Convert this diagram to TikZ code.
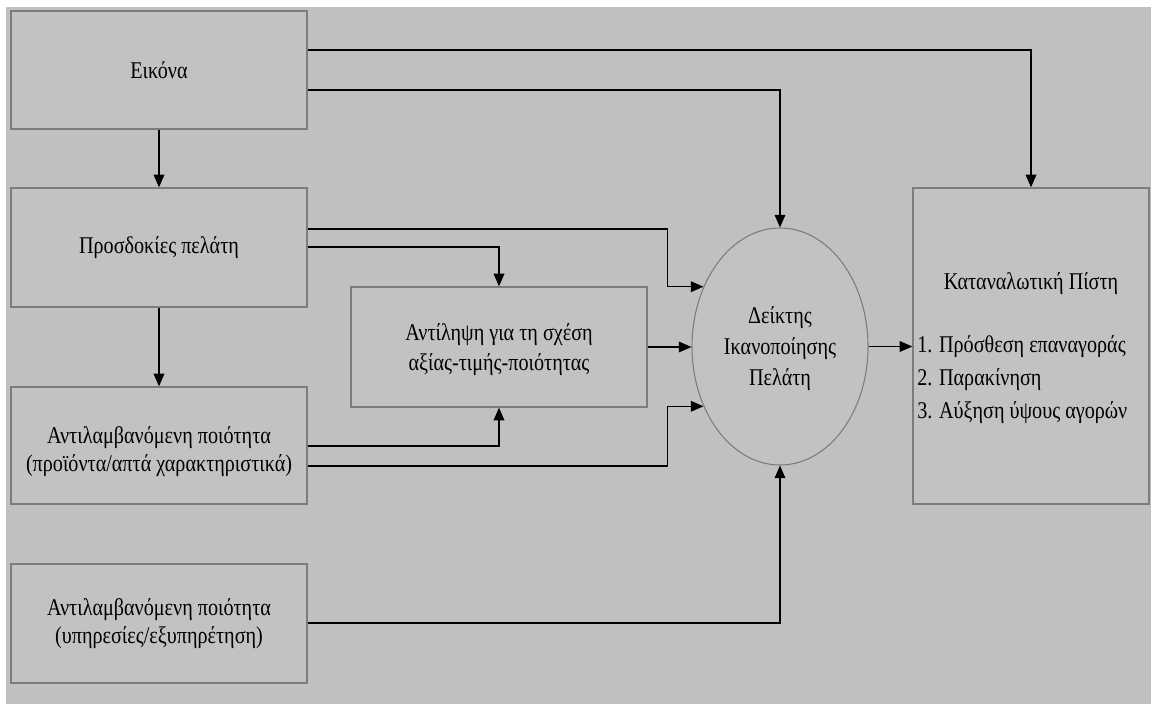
\documentclass[tikz,border=0pt]{standalone}
\usepackage{fontspec}
\setmainfont[FakeStretch=0.84]{Liberation Serif}
\usetikzlibrary{arrows.meta,calc,shapes.geometric}
\definecolor{bg}{HTML}{C0C0C0}
\definecolor{boxfill}{HTML}{C2C2C2}
\definecolor{boxline}{HTML}{7C7C7C}
\newcommand{\shiftedtext}[2]{\raisebox{#1}[0pt][0pt]{\begin{tabular}{@{}c@{}}#2\end{tabular}}}
\tikzset{
  box/.style={draw=boxline,fill=boxfill,line width=1pt,rectangle,inner sep=0pt,align=center,font=\fontsize{18}{22.5}\selectfont},
  oval/.style={draw=boxline,fill=boxfill,line width=0.8pt,ellipse,inner sep=0pt,align=center,font=\fontsize{18}{23.5}\selectfont},
  txt/.style={inner sep=0pt,font=\fontsize{18}{24.75}\selectfont},
  arr/.style={line width=1pt,-{Triangle[length=9.5pt,width=8pt]}},
}
\begin{document}
\begin{tikzpicture}[x=0.75pt,y=-0.75pt]
\useasboundingbox (0,0) rectangle (1151,704);
\fill[white] (0,0) rectangle (1151,704);
\fill[bg] (6,7) rectangle (1151,704);
% boxes
\node[box,minimum width=222pt,minimum height=88.5pt] (A) at (159,70) {Εικόνα};
\node[box,minimum width=222pt,minimum height=89.25pt] (B) at (159,247.5) {Προσδοκίες πελάτη};
\node[box,minimum width=222pt,minimum height=87.75pt,font=\fontsize{18}{21}\selectfont] (C) at (159,445.5) {\shiftedtext{-9pt}{Αντιλαμβανόμενη ποιότητα\\(προϊόντα/απτά χαρακτηριστικά)}};
\node[box,minimum width=222pt,minimum height=89.25pt,font=\fontsize{18}{21}\selectfont] (D) at (159,623.5) {\shiftedtext{-4.5pt}{Αντιλαμβανόμενη ποιότητα\\(υπηρεσίες/εξυπηρέτηση)}};
\node[box,minimum width=222pt,minimum height=90pt] (M) at (499,347) {\shiftedtext{-6.5pt}{Αντίληψη για τη σχέση\\αξίας-τιμής-ποιότητας}};
\node[oval,minimum width=132pt,minimum height=177.75pt] (E) at (780,346.5) {\shiftedtext{-5.5pt}{Δείκτης\\Ικανοποίησης\\Πελάτη}};
\node[box,minimum width=177pt,minimum height=237pt] (R) at (1031,346) {};
\node[txt] (Rt) at (1031,284) {Καταναλωτική Πίστη};
\node[txt,anchor=west,align=left] (Rl) at (917,380) {1. Πρόσθεση επαναγοράς\\2. Παρακίνηση\\3. Αύξηση ύψους αγορών};
% connectors
\draw[arr] ($(A.east)+(0,-20)$) -| (R.north);
\draw[arr] ($(A.east)+(0,20)$) -| (E.north);
\draw[arr] (A.south) -- (B.north);
\draw[arr] (B.south) -- (C.north);
\draw[arr] ($(B.east)+(0,-18.5)$) -| ($(E.142)+(-36,0)$) -- (E.142);
\draw[arr] ($(B.east)+(0,-0.5)$) -| (M.north);
\draw[arr] (M.east) -- (M.east -| E.west);
\draw[arr] ($(C.east)+(0,0.5)$) -| (M.south);
\draw[arr] ($(C.east)+(0,20.5)$) -| ($(E.218)+(-36,0)$) -- (E.218);
\draw[arr] ($(D.east)+(0,-0.5)$) -| (E.south);
\draw[arr] (E.east) -- (E.east -| R.west);
\end{tikzpicture}
\end{document}
